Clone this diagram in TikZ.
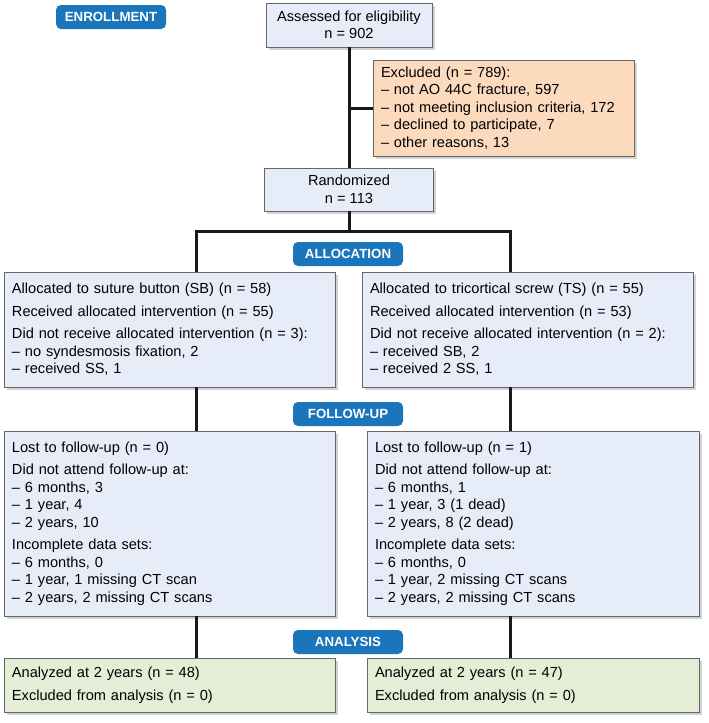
\documentclass[tikz,border=0pt]{standalone}
\usepackage{fontspec}
\setmainfont{Liberation Sans}
\usepackage{tikz}
\usetikzlibrary{shapes,shadows}
\definecolor{phaseblue}{RGB}{27,117,187}
\definecolor{boxblue}{RGB}{231,237,248}
\definecolor{boxorange}{RGB}{252,218,190}
\definecolor{boxgreen}{RGB}{228,238,214}
\newcommand\boxfont{\fontsize{14.6}{17.5}\selectfont}
\tikzstyle{block} = [rectangle, draw=black!60, line width=0.6pt, fill=boxblue,
    drop shadow={shadow xshift=2.5pt, shadow yshift=-2.5pt, fill=black!35},
    inner xsep=8pt, inner ysep=4pt, font=\boxfont]
\tikzstyle{wide} = [block, text width=315pt, minimum height=115pt, align=left]
\tikzstyle{phase} = [rectangle, fill=phaseblue, rounded corners=5pt, text=white,
    font=\fontsize{13.3}{15}\selectfont\bfseries, minimum width=110pt, minimum height=24pt]
\tikzstyle{line} = [draw, line width=3pt, color=black!90]

\begin{document}
\begin{tikzpicture}[x=1pt, y=-1pt]
    \useasboundingbox (0,0) rectangle (709,723);
    % Place nodes
    \node [phase] (enroll) at (111,17) {ENROLLMENT};
    \node [block, align=center, minimum width=166pt, minimum height=44pt] (assess) at (349,25)
        {Assessed for eligibility\\ n = 902};
    \node [block, fill=boxorange, align=left, text width=245pt, minimum height=96pt] (excluded) at (503.5,108)
        {Excluded (n = 789):\\
        -- not AO 44C fracture, 597\\
        -- not meeting inclusion criteria, 172\\
        -- declined to participate, 7\\
        -- other reasons, 13};
    \node [block, align=center, minimum width=169pt, minimum height=43pt] (random) at (349,189.5)
        {Randomized\\ n = 113};
    \node [phase] (allocation) at (348,254) {ALLOCATION};
    \node [wide] (allocSB) at (169.5,329.5)
        {Allocated to suture button (SB) (n = 58)\\[5pt]
        Received allocated intervention (n = 55)\\[5pt]
        Did not receive allocated intervention (n = 3):\\
        -- no syndesmosis fixation, 2\\
        -- received SS, 1};
    \node [wide] (allocTS) at (527.5,329.5)
        {Allocated to tricortical screw (TS) (n = 55)\\[5pt]
        Received allocated intervention (n = 53)\\[5pt]
        Did not receive allocated intervention (n = 2):\\
        -- received SB, 2\\
        -- received 2 SS, 1};
    \node [phase] (followup) at (348,414) {FOLLOW-UP};
    \node [wide, minimum height=185pt] (followSB) at (169.5,523.5)
        {Lost to follow-up (n = 0)\\[5pt]
        Did not attend follow-up at:\\
        -- 6 months, 3\\
        -- 1 year, 4\\
        -- 2 years, 10\\[5pt]
        Incomplete data sets:\\
        -- 6 months, 0\\
        -- 1 year, 1 missing CT scan\\
        -- 2 years, 2 missing CT scans};
    \node [wide, text width=316pt, minimum height=185pt] (followTS) at (533,523.5)
        {Lost to follow-up (n = 1)\\[5pt]
        Did not attend follow-up at:\\
        -- 6 months, 1\\
        -- 1 year, 3 (1 dead)\\
        -- 2 years, 8 (2 dead)\\[5pt]
        Incomplete data sets:\\
        -- 6 months, 0\\
        -- 1 year, 2 missing CT scans\\
        -- 2 years, 2 missing CT scans};
    \node [phase] (analysis) at (348,642) {ANALYSIS};
    \node [wide, fill=boxgreen, minimum height=54pt] (analysisSB) at (169.5,685)
        {Analyzed at 2 years (n = 48)\\[5pt]
        Excluded from analysis (n = 0)};
    \node [wide, fill=boxgreen, text width=316pt, minimum height=54pt] (analysisTS) at (533,685)
        {Analyzed at 2 years (n = 47)\\[5pt]
        Excluded from analysis (n = 0)};

    % Draw edges
    \coordinate (split) at (349,231);
    \coordinate (armSB) at (196,0);
    \coordinate (armTS) at (510,0);
    \path [line] (assess) -- (random);
    \path [line] (assess |- excluded.west) -- (excluded.west);
    \path [line] (random) -- (split);
    \path [line] (armSB |- allocSB.north) |- (split) -| (armTS |- allocTS.north);
    \path [line] (armSB |- allocSB.south) -- (armSB |- followSB.north);
    \path [line] (armTS |- allocTS.south) -- (armTS |- followTS.north);
    \path [line] (armSB |- followSB.south) -- (armSB |- analysisSB.north);
    \path [line] (armTS |- followTS.south) -- (armTS |- analysisTS.north);
\end{tikzpicture}
\end{document}
